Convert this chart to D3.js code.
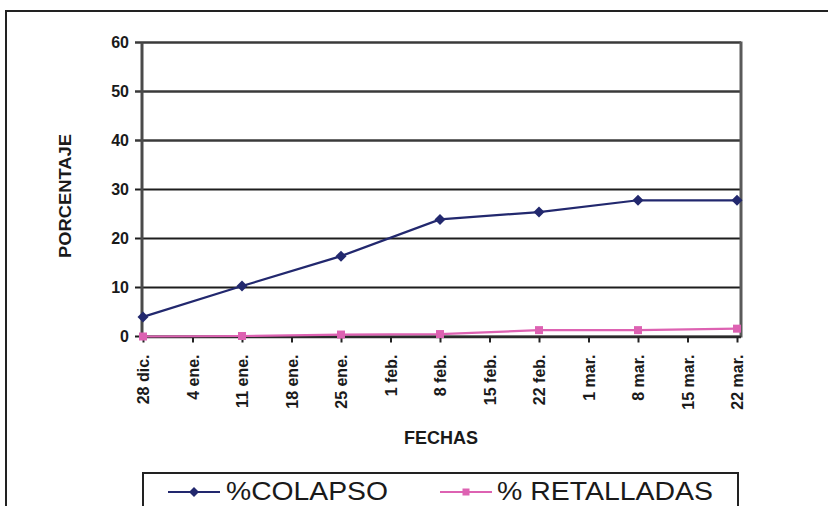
<!DOCTYPE html>
<html>
<head>
<meta charset="utf-8">
<script src="https://cdn.jsdelivr.net/npm/d3@7/dist/d3.min.js"></script>
<style>
  html, body { margin: 0; padding: 0; background: #ffffff; }
  svg { display: block; }
  text { font-family: Arial, "Liberation Sans", Helvetica, sans-serif; fill: #1a1a1a; }
</style>
</head>
<body>
<svg id="chart" width="828" height="506"></svg>
<script>
// Weekly date labels along the x axis
const fechas = ["28 dic.", "4 ene.", "11 ene.", "18 ene.", "25 ene.", "1 feb.", "8 feb.",
                "15 feb.", "22 feb.", "1 mar.", "8 mar.", "15 mar.", "22 mar."];
// Dates on which measurements were taken (every two weeks)
const fechasMedidas = ["28 dic.", "11 ene.", "25 ene.", "8 feb.", "22 feb.", "8 mar.", "22 mar."];
// Percentages per series
const colapso = [4.0, 10.3, 16.4, 23.9, 25.4, 27.8, 27.8];
const retalladas = [0, 0.1, 0.4, 0.5, 1.3, 1.3, 1.6];
// Y axis ticks
const yTicks = [0, 10, 20, 30, 40, 50, 60];

const series = [
  { name: "%COLAPSO", values: colapso, color: "#22286e", marker: "diamond" },
  { name: "% RETALLADAS", values: retalladas, color: "#dd62b2", marker: "square" }
];

const svg = d3.select("#chart");

const plot = { left: 142, right: 741, top: 42.5, bottom: 336.5 };

const x = d3.scalePoint().domain(fechas).range([143, 737]);
const y = d3.scaleLinear().domain([0, 60]).range([plot.bottom, plot.top]);

// Outer frame (top and left edges)
svg.append("path")
  .attr("d", "M6,506 V11 H828")
  .attr("fill", "none")
  .attr("stroke", "#222")
  .attr("stroke-width", 2);

// Plot background
svg.append("rect")
  .attr("x", plot.left).attr("y", plot.top)
  .attr("width", plot.right - plot.left).attr("height", plot.bottom - plot.top)
  .attr("fill", "#ffffff");

// Horizontal gridlines, extended left as tick marks
svg.append("g").selectAll("line")
  .data(yTicks)
  .join("line")
  .attr("x1", 135).attr("x2", plot.right)
  .attr("y1", d => y(d)).attr("y2", d => y(d))
  .attr("stroke", d => d >= 40 ? "#3a3a3a" : "#1e1e1e")
  .attr("stroke-width", d => d >= 40 ? 2.6 : 2);

// Y tick labels
svg.append("g").selectAll("text")
  .data(yTicks)
  .join("text")
  .attr("x", 129)
  .attr("y", d => y(d))
  .attr("dy", "0.36em")
  .attr("text-anchor", "end")
  .attr("font-size", 16)
  .attr("font-weight", "bold")
  .text(d => d);

// Left axis line and right border
svg.append("line")
  .attr("x1", plot.left).attr("x2", plot.left)
  .attr("y1", plot.top).attr("y2", plot.bottom + 1)
  .attr("stroke", "#4a4a4a").attr("stroke-width", 3);
svg.append("line")
  .attr("x1", plot.right).attr("x2", plot.right)
  .attr("y1", plot.top - 1).attr("y2", plot.bottom + 1)
  .attr("stroke", "#5a5a5a").attr("stroke-width", 3);

// X axis via d3.axisBottom
const xAxis = svg.append("g")
  .attr("transform", `translate(0,${plot.bottom})`)
  .call(d3.axisBottom(x).tickSize(6).tickSizeOuter(0));
xAxis.select(".domain")
  .attr("d", `M${plot.left},0.5H${plot.right}`)
  .attr("stroke", "#2a2a2a").attr("stroke-width", 2.5);
xAxis.selectAll(".tick line").attr("stroke", "#222").attr("stroke-width", 2);
xAxis.selectAll(".tick text")
  .attr("transform", "rotate(-90)")
  .attr("x", -18)
  .attr("y", 0)
  .attr("dy", "0.35em")
  .attr("text-anchor", "end")
  .attr("font-size", 16)
  .attr("font-weight", "bold")
  .attr("font-family", "Arial, 'Liberation Sans', sans-serif")
  .attr("fill", "#1a1a1a");

// Axis titles
svg.append("text")
  .attr("x", 441).attr("y", 444)
  .attr("text-anchor", "middle")
  .attr("font-size", 18)
  .attr("font-weight", "bold")
  .text("FECHAS");
svg.append("text")
  .attr("transform", "translate(71,196) rotate(-90)")
  .attr("text-anchor", "middle")
  .attr("font-size", 17)
  .attr("font-weight", "bold")
  .attr("textLength", 124)
  .attr("lengthAdjust", "spacingAndGlyphs")
  .text("PORCENTAJE");

// Series lines and markers
const line = d3.line()
  .x((d, i) => x(fechasMedidas[i]))
  .y(d => y(d));

const diamond = s => `M0,${-s}L${s},0L0,${s}L${-s},0Z`;

series.slice().reverse().forEach(s => {
  const g = svg.append("g");
  g.append("path")
    .attr("d", line(s.values))
    .attr("fill", "none")
    .attr("stroke", s.color)
    .attr("stroke-width", 2.2);
  g.selectAll(".m")
    .data(s.values)
    .join("path")
    .attr("transform", (d, i) => `translate(${x(fechasMedidas[i])},${y(d)})`)
    .attr("d", s.marker === "diamond" ? diamond(5.5) : "M-4,-4H4V4H-4Z")
    .attr("fill", s.color);
});

// Legend
svg.append("rect")
  .attr("x", 143).attr("y", 473)
  .attr("width", 595).attr("height", 45)
  .attr("fill", "#ffffff")
  .attr("stroke", "#222").attr("stroke-width", 2);

const legendItems = [
  { s: series[0], x0: 168, x1: 220, tx: 226, w: 162 },
  { s: series[1], x0: 440, x1: 492, tx: 497, w: 216 }
];
legendItems.forEach(it => {
  const cy = 492;
  svg.append("line")
    .attr("x1", it.x0).attr("x2", it.x1)
    .attr("y1", cy).attr("y2", cy)
    .attr("stroke", it.s.color).attr("stroke-width", 2);
  svg.append("path")
    .attr("transform", `translate(${(it.x0 + it.x1) / 2},${cy})`)
    .attr("d", it.s.marker === "diamond" ? diamond(5) : "M-3.5,-3.5H3.5V3.5H-3.5Z")
    .attr("fill", it.s.color);
  svg.append("text")
    .attr("x", it.tx).attr("y", 499.5)
    .attr("font-size", 26)
    .attr("textLength", it.w)
    .attr("lengthAdjust", "spacingAndGlyphs")
    .text(it.s.name);
});
</script>
</body>
</html>
